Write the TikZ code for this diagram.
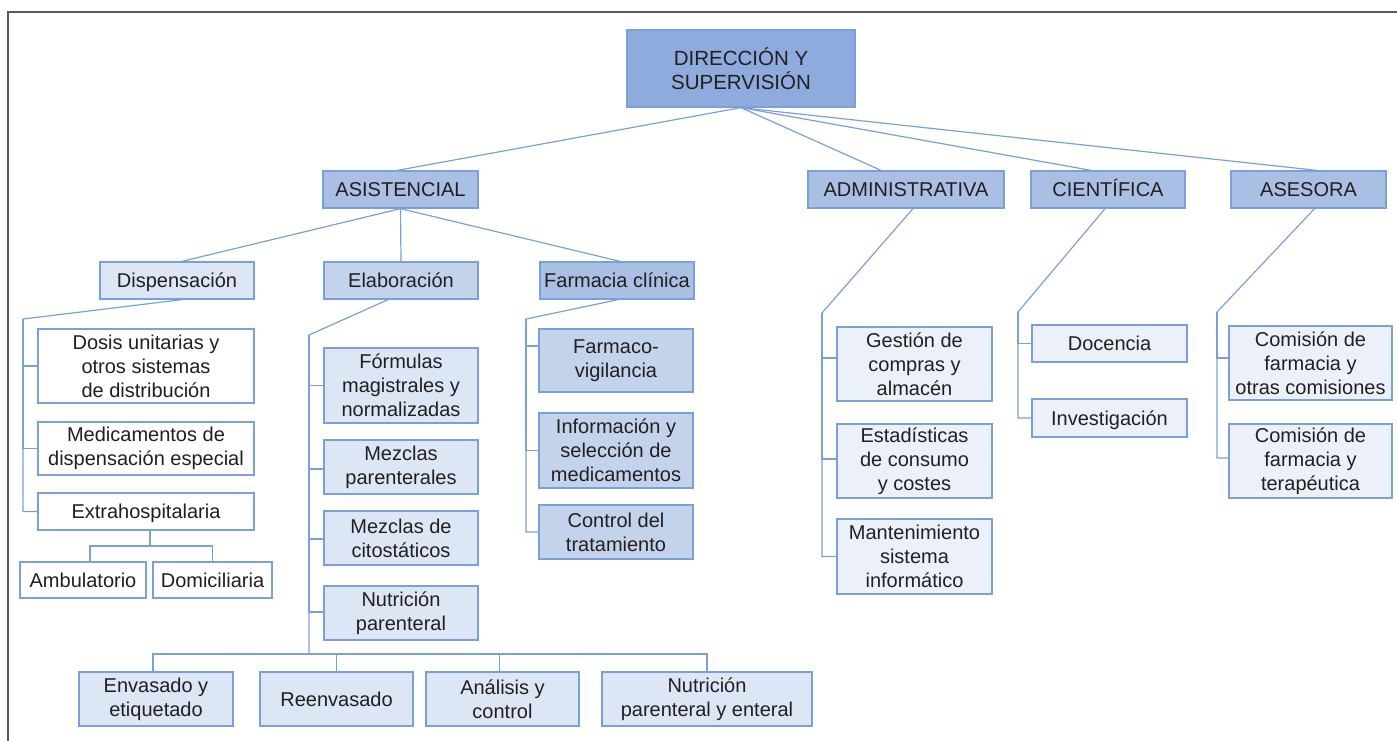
\documentclass[tikz,border=0pt]{standalone}
\usepackage{fontspec}
\setmainfont{Liberation Sans}
\definecolor{cA}{HTML}{8FAADC}
\definecolor{cB}{HTML}{A9BFE3}
\definecolor{cC}{HTML}{C4D3EC}
\definecolor{cD}{HTML}{DDE6F4}
\definecolor{cE}{HTML}{ECF1F9}
\definecolor{ln}{HTML}{7BA0D8}
\definecolor{txt}{HTML}{231F20}
\definecolor{frm}{HTML}{5A5A5A}
\begin{document}
\begin{tikzpicture}[x=1pt,y=-1pt,
  box/.style={draw=ln, line width=1.3pt, inner sep=0pt, align=center, text=txt,
    font=\fontsize{20}{24}\selectfont},
  one/.style={text height=16pt, text depth=2pt},
  conn/.style={draw=ln, line width=1.2pt}]
\useasboundingbox (0,0) rectangle (1397,741);
\draw[frm, line width=1.6pt] (8,745) -- (8,12) -- (1400,12);

% level 0 and 1
\node[box, fill=cA, minimum width=228pt, minimum height=77pt, font=\fontsize{20.5}{24}\selectfont] (dir) at (741,68.5) {DIRECCIÓN Y\\SUPERVISIÓN};
\node[box, one, fill=cB, minimum width=155pt, minimum height=37pt] (asis) at (400.5,189.5) {ASISTENCIAL};
\node[box, one, fill=cB, minimum width=196pt, minimum height=37pt] (adm) at (906,189.5) {ADMINISTRATIVA};
\node[box, one, fill=cB, minimum width=154pt, minimum height=37pt] (cie) at (1108,189.5) {CIENTÍFICA};
\node[box, one, fill=cB, minimum width=155pt, minimum height=37pt] (ase) at (1308.5,189.5) {ASESORA};

% level 2
\node[box, one, fill=cD, minimum width=154pt, minimum height=37pt] (disp) at (177,280.5) {Dispensación};
\node[box, one, fill=cC, minimum width=154pt, minimum height=37pt] (elab) at (401,280.5) {Elaboración};
\node[box, one, fill=cB, minimum width=154pt, minimum height=37pt] (farm) at (617,280.5) {Farmacia clínica};

% dispensacion children
\node[box, fill=white, minimum width=216pt, minimum height=74pt] (dosis) at (146,366) {Dosis unitarias y\\otros sistemas\\de distribución};
\node[box, fill=white, minimum width=216pt, minimum height=53pt] (medi) at (146,448.5) {Medicamentos de\\dispensación especial};
\node[box, one, fill=white, minimum width=216pt, minimum height=37pt] (extra) at (146,511.5) {Extrahospitalaria};
\node[box, one, fill=white, minimum width=126pt, minimum height=36pt] (ambu) at (83,580) {Ambulatorio};
\node[box, one, fill=white, minimum width=119pt, minimum height=36pt] (domi) at (212.5,580) {Domiciliaria};

% elaboracion children
\node[box, fill=cD, minimum width=154pt, minimum height=75pt] (form) at (401,385.5) {Fórmulas\\magistrales y\\normalizadas};
\node[box, fill=cD, minimum width=154pt, minimum height=54pt] (mpar) at (401,467) {Mezclas\\parenterales};
\node[box, fill=cD, minimum width=154pt, minimum height=54pt] (mcit) at (401,538) {Mezclas de\\citostáticos};
\node[box, fill=cD, minimum width=154pt, minimum height=54pt] (nutp) at (401,613) {Nutrición\\parenteral};
\node[box, fill=cD, minimum width=154pt, minimum height=54pt] (env) at (156,699) {Envasado y\\etiquetado};
\node[box, one, fill=cD, minimum width=153pt, minimum height=54pt] (reen) at (336.5,699) {Reenvasado};
\node[box, fill=cD, minimum width=153pt, minimum height=54pt] (anal) at (502.5,699) {Análisis y\\control};
\node[box, fill=cD, minimum width=210pt, minimum height=54pt] (nutpe) at (707,699) {Nutrición\\parenteral y enteral};

% farmacia clinica children
\node[box, fill=cC, minimum width=154pt, minimum height=63pt] (fv) at (616,360.5) {Farmaco-\\vigilancia};
\node[box, fill=cC, minimum width=154pt, minimum height=75pt] (info) at (616,450.5) {Información y\\selección de\\medicamentos};
\node[box, fill=cC, minimum width=154pt, minimum height=54pt] (ctrl) at (616,532) {Control del\\tratamiento};

% administrativa children
\node[box, fill=cE, minimum width=155pt, minimum height=74pt] (gest) at (914.5,364) {Gestión de\\compras y\\almacén};
\node[box, fill=cE, minimum width=155pt, minimum height=74pt] (esta) at (914.5,461) {Estadísticas\\de consumo\\y costes};
\node[box, fill=cE, minimum width=155pt, minimum height=75pt] (mant) at (914.5,556.5) {Mantenimiento\\sistema\\informático};

% cientifica children
\node[box, one, fill=cE, minimum width=155pt, minimum height=37pt] (doc) at (1109.5,343.5) {Docencia};
\node[box, one, fill=cE, minimum width=155pt, minimum height=38pt] (inv) at (1109.5,418) {Investigación};

% asesora children
\node[box, fill=cE, minimum width=163pt, minimum height=74pt] (com1) at (1310.5,363) {Comisión de\\farmacia y\\otras comisiones};
\node[box, fill=cE, minimum width=163pt, minimum height=74pt] (com2) at (1310.5,461) {Comisión de\\farmacia y\\terapéutica};

% connectors level 0 -> 1
\draw[conn] (dir.south) -- ([xshift=-3pt]asis.north);
\draw[conn] (dir.south) -- ([xshift=-25pt]adm.north);
\draw[conn] (dir.south) -- ([xshift=-17pt]cie.north);
\draw[conn] (dir.south) -- ([xshift=8pt]ase.north);

% asistencial -> level 2
\draw[conn] (asis.south) -- ([xshift=5pt]disp.north);
\draw[conn] (asis.south) -- (elab.north);
\draw[conn] (asis.south) -- ([xshift=3pt]farm.north);

% dispensacion tree
\coordinate (dk) at (23,319);
\draw[conn] ([xshift=5pt]disp.south) -- (dk) |- (extra.west);
\draw[conn] (dk) |- (dosis.west);
\draw[conn] (dk) |- (medi.west);
\coordinate (ej) at (150,546);
\draw[conn] ([xshift=4pt]extra.south) -- (ej);
\draw[conn] ([xshift=7pt]ambu.north) |- (ej) -| (domi.north);

% elaboracion tree
\coordinate (ek) at (309,335);
\coordinate (eb) at (309,654);
\draw[conn] ([xshift=-13pt]elab.south) -- (ek) -- (eb);
\draw[conn] (ek) |- (form.west);
\draw[conn] (ek) |- ([yshift=-2pt]mpar.west);
\draw[conn] (ek) |- ([yshift=-1pt]mcit.west);
\draw[conn] (ek) |- ([yshift=1pt]nutp.west);
\draw[conn] ([xshift=-3pt]env.north) |- (eb) -| (nutpe.north);
\draw[conn] (reen.north) -- (reen.north |- eb);
\draw[conn] ([xshift=-3pt]anal.north) -- ([xshift=-3pt]anal.north |- eb);

% farmacia clinica tree
\coordinate (fk) at (526,319);
\draw[conn] ([xshift=1pt]farm.south) -- (fk) |- (ctrl.west);
\draw[conn] (fk) |- ([yshift=14.5pt]fv.west);
\draw[conn] (fk) |- (info.west);

% administrativa tree
\coordinate (ak) at (822,313);
\draw[conn] ([xshift=7pt]adm.south) -- (ak) |- (mant.west);
\draw[conn] (ak) |- ([yshift=6pt]gest.west);
\draw[conn] (ak) |- ([yshift=2pt]esta.west);

% cientifica tree
\coordinate (ck) at (1018,312);
\draw[conn] ([xshift=-3pt]cie.south) -- (ck) |- (inv.west);
\draw[conn] (ck) |- (doc.west);

% asesora tree
\coordinate (sk) at (1217,312);
\draw[conn] ([xshift=6pt]ase.south) -- (sk) |- ([yshift=3pt]com2.west);
\draw[conn] (sk) |- ([yshift=5pt]com1.west);
\end{tikzpicture}
\end{document}
